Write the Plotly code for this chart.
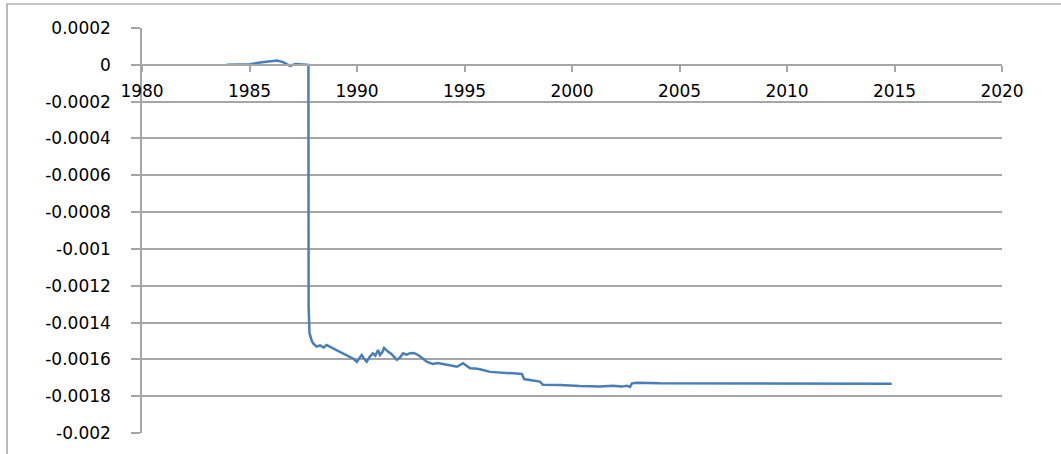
import plotly.graph_objects as go

years = [1983.94, 1985.02, 1985.49, 1986.28, 1986.56, 1986.88, 1987.16, 1987.58, 1987.74,
         1987.75, 1987.79, 1987.91, 1988.0, 1988.13, 1988.28, 1988.45, 1988.59, 1988.75, 1988.88,
         1989.05, 1989.21, 1989.45, 1989.67, 1989.85, 1989.99, 1990.1, 1990.22, 1990.35, 1990.45,
         1990.6, 1990.74, 1990.85, 1990.98, 1991.07, 1991.18, 1991.26, 1991.44, 1991.6, 1991.85,
         1992.0, 1992.14, 1992.3, 1992.47, 1992.65, 1992.84, 1993.0, 1993.26, 1993.53, 1993.75,
         1994.0, 1994.33, 1994.65, 1994.93, 1995.26, 1995.5, 1995.72, 1996.19, 1996.65, 1997.26,
         1997.67, 1997.77, 1998.1, 1998.51, 1998.65, 1999.44, 2000.37, 2001.30, 2001.9, 2002.3,
         2002.56, 2002.70, 2002.79, 2003.02, 2004.09, 2014.87]
values = [0.0, 0.000003, 0.0000125, 0.0000234, 0.0000147, -0.0000054, 0.0000038, 0.0, 0.0,
          -0.001315, -0.001458, -0.001504, -0.001518, -0.001531, -0.001524, -0.001536, -0.001522,
          -0.001532, -0.00154, -0.001548, -0.001558, -0.001572, -0.001585, -0.001598, -0.001614,
          -0.001595, -0.001576, -0.001600, -0.001613, -0.001585, -0.001567, -0.00158, -0.001549,
          -0.001576, -0.00156, -0.001538, -0.001558, -0.00157, -0.001603, -0.00159, -0.001567,
          -0.001574, -0.001567, -0.001565, -0.001576, -0.00159, -0.001614, -0.001625, -0.00162,
          -0.001625, -0.001634, -0.00164, -0.001621, -0.001648, -0.00165, -0.001654, -0.001668,
          -0.00167, -0.001676, -0.001679, -0.001707, -0.001713, -0.001721, -0.001738, -0.001739,
          -0.001745, -0.001747, -0.001744, -0.001748, -0.001743, -0.00175, -0.00173, -0.001727,
          -0.00173, -0.001732]

x_ticks = [1980, 1985, 1990, 1995, 2000, 2005, 2010, 2015, 2020]
y_ticks = [0.0002, 0, -0.0002, -0.0004, -0.0006, -0.0008, -0.001, -0.0012, -0.0014,
           -0.0016, -0.0018, -0.002]
y_labels = ["0.0002", "0", "-0.0002", "-0.0004", "-0.0006", "-0.0008", "-0.001", "-0.0012",
            "-0.0014", "-0.0016", "-0.0018", "-0.002"]

grey = "#a6a6a6"
font = dict(family="DejaVu Sans", size=17, color="black")

fig = go.Figure()
fig.add_trace(go.Scatter(x=years, y=values, mode="lines", hoverinfo="skip",
                         line=dict(color="#4a7ebb", width=2.5), showlegend=False))

fig.update_layout(
    width=1061, height=454,
    margin=dict(l=142, r=59, t=28, b=21),
    paper_bgcolor="white", plot_bgcolor="white",
    font=font,
    xaxis=dict(range=[1980, 2020], tickvals=x_ticks, ticktext=[str(v) for v in x_ticks],
               showgrid=False, zeroline=False, showline=True, linecolor=grey, linewidth=1.5,
               ticks="outside", ticklen=6, tickcolor=grey, tickwidth=1.5,
               anchor="free", position=0.002 / 0.0022, ticklabelstandoff=5,
               automargin=False, tickfont=font),
    yaxis=dict(range=[-0.002, 0.0002], tickvals=y_ticks, ticktext=y_labels,
               showgrid=True, gridcolor=grey, gridwidth=1.5, zeroline=False,
               showline=True, linecolor=grey, linewidth=1.5,
               ticks="outside", ticklen=9, tickcolor=grey, tickwidth=1.5,
               ticklabelstandoff=17, automargin=False, tickfont=font),
)

# outer chart border (Excel chart area)
fig.add_shape(type="rect", xref="paper", yref="paper",
              x0=(7 - 142) / 860, x1=1.2, y0=-0.2, y1=(433 - 4) / 405,
              line=dict(color="#8c8c8c", width=1.2), fillcolor="rgba(0,0,0,0)", layer="below")

fig.write_html("out.html", config={"displayModeBar": False},
               post_script="document.body.style.margin='0';document.body.style.overflow='hidden';")
